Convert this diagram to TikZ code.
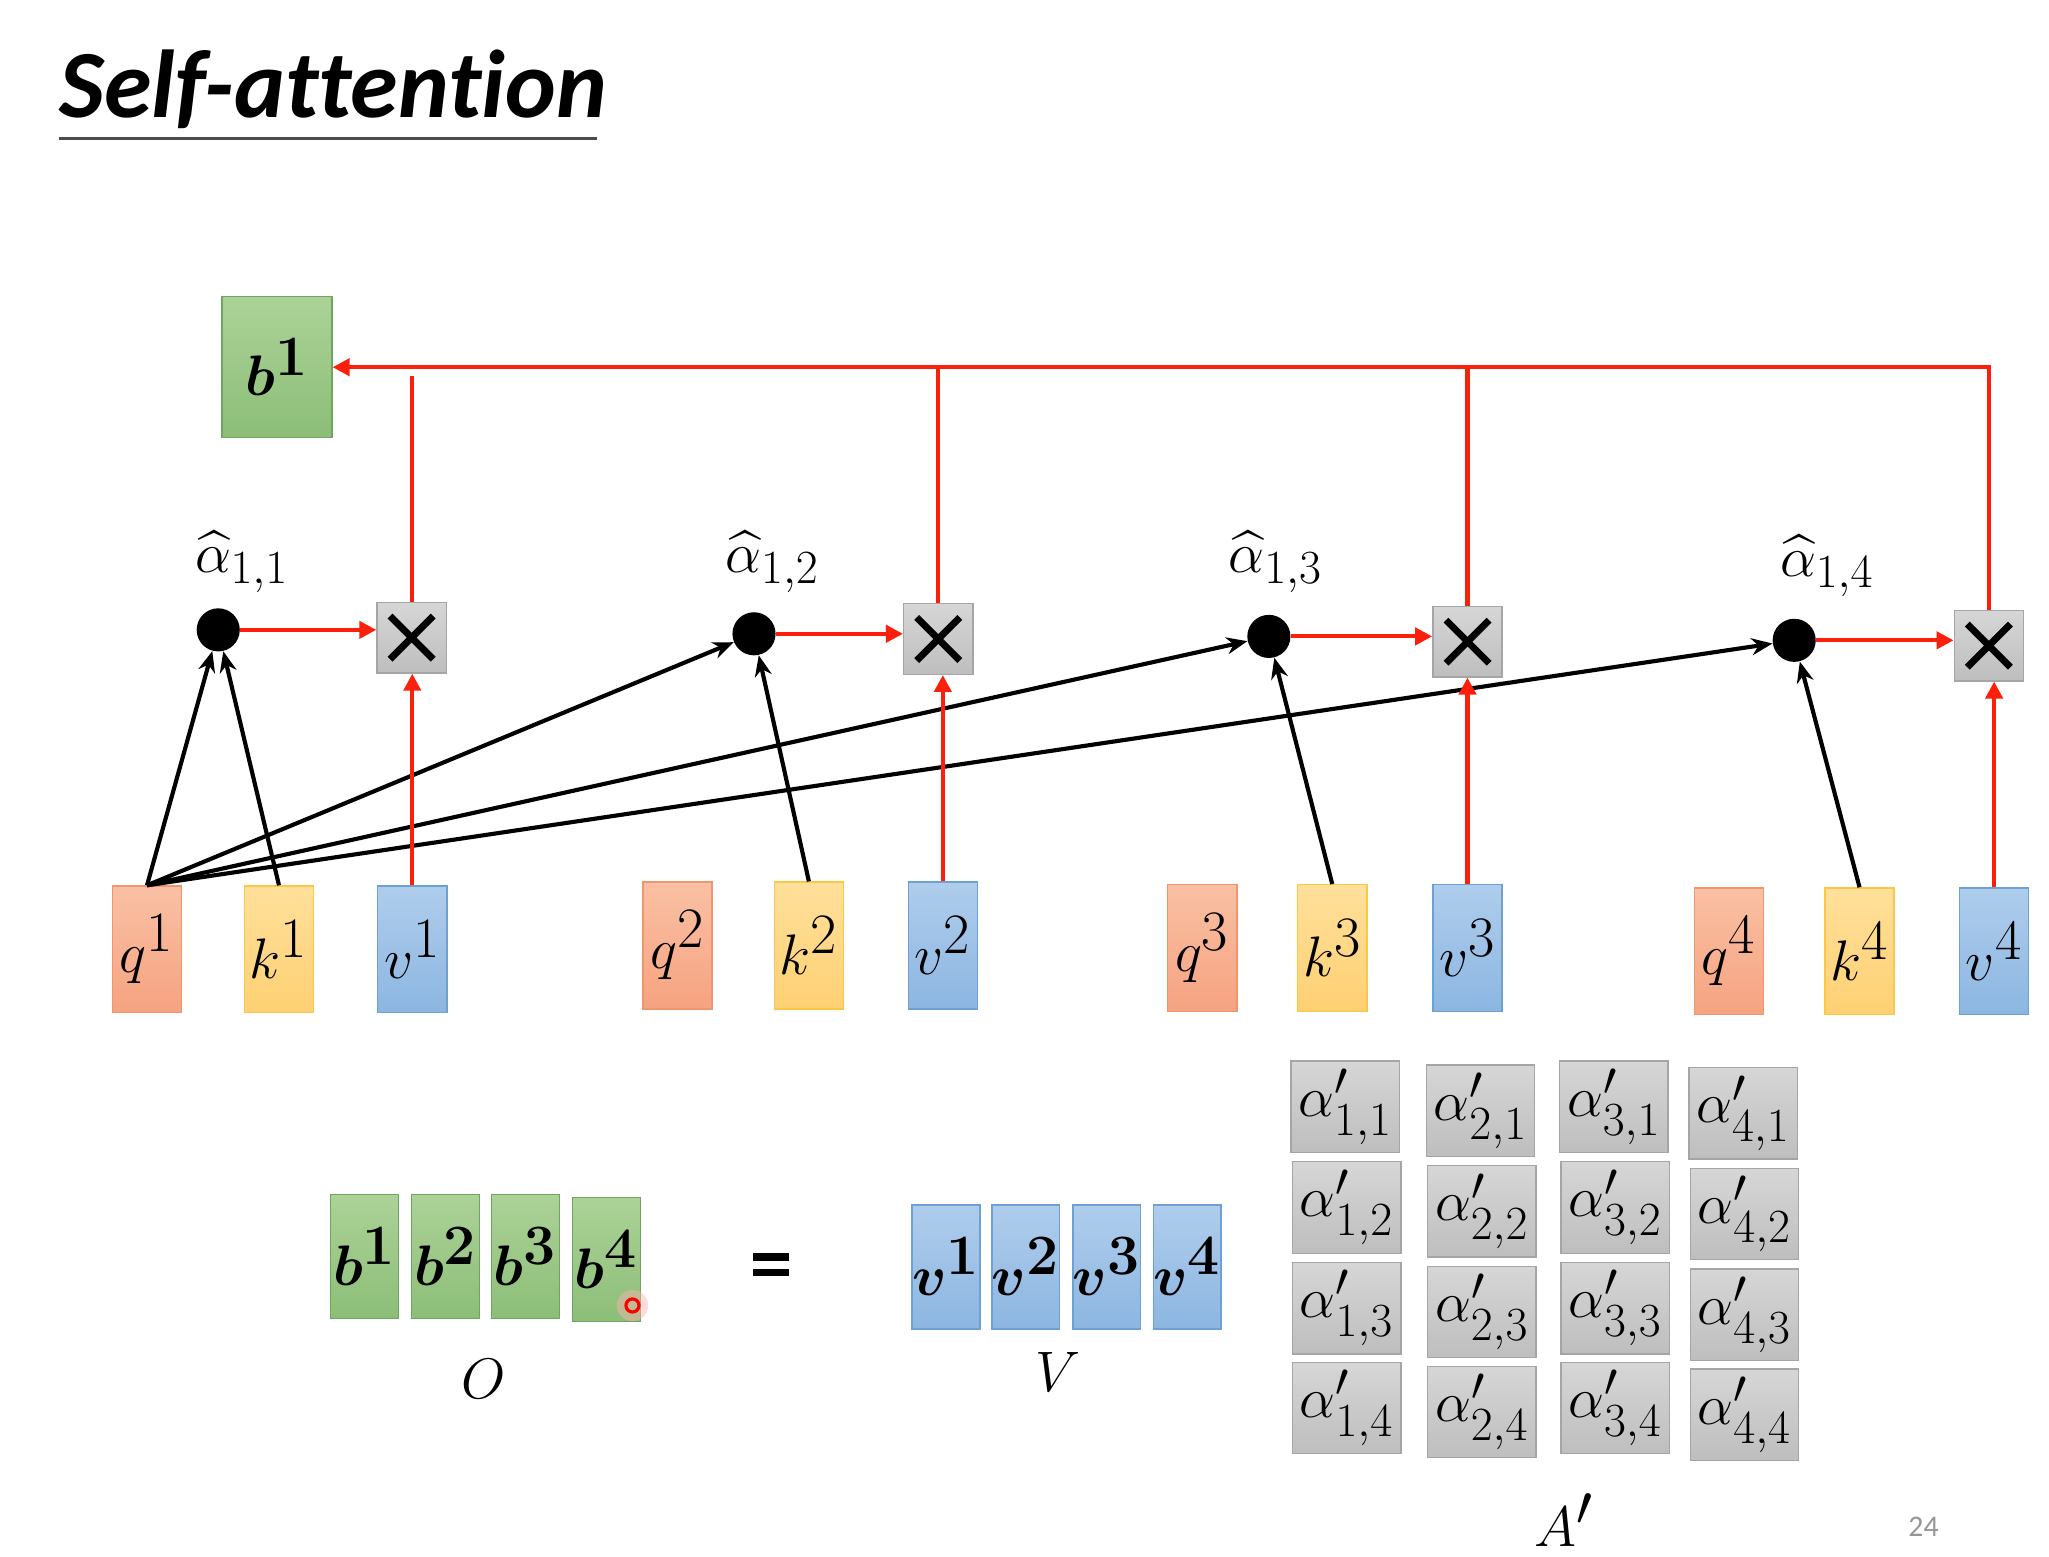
\documentclass[tikz,border=0pt]{standalone}
\usepackage{amsmath}
\usepackage{bm}
\usepackage{fontspec}
\newfontfamily\titlefont{Carlito}[Ligatures=NoCommon]
\usetikzlibrary{arrows.meta}
\definecolor{qtop}{RGB}{250,192,164}
\definecolor{qbot}{RGB}{245,163,128}
\definecolor{qdr}{RGB}{240,150,110}
\definecolor{ktop}{RGB}{255,224,155}
\definecolor{kbot}{RGB}{254,208,115}
\definecolor{kdr}{RGB}{250,200,70}
\definecolor{vtop}{RGB}{175,205,236}
\definecolor{vbot}{RGB}{140,182,225}
\definecolor{vdr}{RGB}{110,160,210}
\definecolor{gtop}{RGB}{172,210,152}
\definecolor{gbot}{RGB}{140,190,120}
\definecolor{gdr}{RGB}{110,165,95}
\definecolor{xtop}{RGB}{214,214,214}
\definecolor{xbot}{RGB}{190,190,190}
\definecolor{xdr}{RGB}{165,165,165}
\definecolor{redline}{RGB}{250,32,12}
\definecolor{pagegray}{RGB}{150,150,150}
\begin{document}
\begin{tikzpicture}[x=0.02cm,y=-0.02cm,
  cell/.style={draw, line width=0.6pt, inner sep=0pt, minimum width=1.06cm, minimum height=1.94cm, font=\fontsize{38}{44}\selectfont},
  qcell/.style={cell, draw=qdr, top color=qtop, bottom color=qbot},
  kcell/.style={cell, draw=kdr, top color=ktop, bottom color=kbot},
  vcell/.style={cell, draw=vdr, top color=vtop, bottom color=vbot},
  gcell/.style={cell, draw=gdr, top color=gtop, bottom color=gbot},
  ocell/.style={minimum width=1.04cm, minimum height=1.9cm, font=\fontsize{36}{42}\selectfont},
  acell/.style={draw=xdr, line width=0.6pt, top color=xtop, bottom color=xbot, inner sep=0pt, minimum width=1.66cm, minimum height=1.40cm, font=\fontsize{31}{36}\selectfont},
  mulbox/.style={draw=xdr, line width=0.6pt, top color=xtop, bottom color=xbot, inner sep=0pt, minimum width=1.06cm, minimum height=1.08cm,
     path picture={
       \draw[black, line width=3pt] ([shift={(-0.33cm,-0.33cm)}]path picture bounding box.center) -- ([shift={(0.33cm,0.33cm)}]path picture bounding box.center);
       \draw[black, line width=3pt] ([shift={(-0.33cm,0.33cm)}]path picture bounding box.center) -- ([shift={(0.33cm,-0.33cm)}]path picture bounding box.center);}},
  adot/.style={circle, fill=black, inner sep=0pt, minimum size=0.66cm},
  lab/.style={inner sep=0pt, font=\fontsize{32}{38}\selectfont},
  bigl/.style={inner sep=0pt, font=\fontsize{36}{42}\selectfont},
  bk/.style={draw=black, line width=1.8pt, -{Stealth[length=0.32cm,width=0.26cm]}},
  rd/.style={draw=redline, line width=1.8pt, -{Triangle[length=0.26cm,width=0.26cm]}},
  rdl/.style={draw=redline, line width=1.8pt},
]
\useasboundingbox[fill=white] (0,0) rectangle (1568,1191);

% title
\node[anchor=base west, inner sep=0pt, font=\titlefont\bfseries\itshape\fontsize{42}{48}\selectfont] (title) at (45,90) {Self-attention};
\draw[line width=1.2pt, black!70] (45,106) -- (457,106);

% q k v row
\node[qcell] (q1) at (112.5,726.5) {$q^1$};
\node[kcell] (k1) at (213.5,726.5) {$k^1$};
\node[vcell] (v1) at (315.5,726.5) {$v^1$};
\node[qcell] (q2) at (518.5,723.5) {$q^2$};
\node[kcell] (k2) at (619,723.5) {$k^2$};
\node[vcell] (v2) at (721.5,723.5) {$v^2$};
\node[qcell] (q3) at (920,725.5) {$q^3$};
\node[kcell] (k3) at (1019.5,725.5) {$k^3$};
\node[vcell] (v3) at (1123,725.5) {$v^3$};
\node[qcell] (q4) at (1323,728) {$q^4$};
\node[kcell] (k4) at (1423,728) {$k^4$};
\node[vcell] (v4) at (1526,728) {$v^4$};

% multiply boxes
\node[mulbox] (X1) at (315,488) {};
\node[mulbox] (X2) at (718,489) {};
\node[mulbox] (X3) at (1123,491) {};
\node[mulbox] (X4) at (1522,494) {};

% dots and labels
\node[adot] (d1) at (167,482) {};
\node[adot] (d2) at (577,485) {};
\node[adot] (d3) at (971,487) {};
\node[adot] (d4) at (1373,490) {};
\node[lab] (l1) at (185,430) {$\widehat{\alpha}_{1,1}$};
\node[lab] (l2) at (591,430) {$\widehat{\alpha}_{1,2}$};
\node[lab] (l3) at (976,430) {$\widehat{\alpha}_{1,3}$};
\node[lab] (l4) at (1398,433) {$\widehat{\alpha}_{1,4}$};

% output b1
\node[gcell, minimum width=1.68cm, minimum height=2.16cm, font=\fontsize{38}{44}\selectfont] (bt) at (212,281) {$\bm{b^1}$};

% black arrows
\draw[bk] (q1.north) -- (d1);
\draw[bk] (q1.north) -- (d2);
\draw[bk] (q1.north) -- (d3);
\draw[bk] (q1.north) -- (d4);
\draw[bk] (k1.north) -- (d1);
\draw[bk] (k2.north) -- (d2);
\draw[bk] (k3.north) -- (d3);
\draw[bk] (k4.north) -- (d4);

% red arrows
\foreach \i in {1,2,3,4}{
  \draw[rd] (d\i.east) -- (d\i.east -| X\i.west);
  \draw[rd] (v\i.north) -- (v\i.north |- X\i.south);
}
\draw[rd] (X4.north) |- (bt.east);
\draw[rdl] (X3.north) -- (X3.north |- bt.east);
\draw[rdl] (X2.north) -- (X2.north |- bt.east);
\draw[rdl] (X1.north) -- ([yshift=-0.14cm]X1.north |- bt.east);

% O = V A'
\node[gcell, ocell] (o1) at (279,961.5) {$\bm{b^1}$};
\node[gcell, ocell] (o2) at (341,961.5) {$\bm{b^2}$};
\node[gcell, ocell] (o3) at (402,961.5) {$\bm{b^3}$};
\node[gcell, ocell] (o4) at (464,964) {$\bm{b^4}$};
\node[bigl] (Olab) at (370,1055) {$O$};
\node[inner sep=0pt] (eq) at (590,968) {\vbox{\hrule width 15.4pt height 3.4pt\vskip 3.2pt\hrule width 15.4pt height 3.4pt}};
\node[vcell, ocell] (w1) at (724,969.5) {$\bm{v^1}$};
\node[vcell, ocell] (w2) at (785,969.5) {$\bm{v^2}$};
\node[vcell, ocell] (w3) at (847,969.5) {$\bm{v^3}$};
\node[vcell, ocell] (w4) at (908.5,969.5) {$\bm{v^4}$};
\node[bigl] (Vlab) at (810,1050) {$V$};

\node[acell] (a11) at (1029.5,847) {$\alpha'_{1,1}$};
\node[acell] (a21) at (1133,850) {$\alpha'_{2,1}$};
\node[acell] (a31) at (1235,847) {$\alpha'_{3,1}$};
\node[acell] (a41) at (1334,852) {$\alpha'_{4,1}$};
\node[acell] (a12) at (1030.5,924) {$\alpha'_{1,2}$};
\node[acell] (a22) at (1134,927) {$\alpha'_{2,2}$};
\node[acell] (a32) at (1236,924) {$\alpha'_{3,2}$};
\node[acell] (a42) at (1335,929) {$\alpha'_{4,2}$};
\node[acell] (a13) at (1030.5,1001) {$\alpha'_{1,3}$};
\node[acell] (a23) at (1134,1004) {$\alpha'_{2,3}$};
\node[acell] (a33) at (1236,1001) {$\alpha'_{3,3}$};
\node[acell] (a43) at (1335,1006) {$\alpha'_{4,3}$};
\node[acell] (a14) at (1030.5,1077.5) {$\alpha'_{1,4}$};
\node[acell] (a24) at (1134,1080.5) {$\alpha'_{2,4}$};
\node[acell] (a34) at (1236,1077.5) {$\alpha'_{3,4}$};
\node[acell] (a44) at (1335,1082.5) {$\alpha'_{4,4}$};
\node[bigl] (Alab) at (1197,1163) {$A'$};

% page number
\node[inner sep=0pt, font=\titlefont\fontsize{13}{15}\selectfont, text=pagegray] (pg) at (1472,1168) {24};

% laser pointer mark
\fill[red!30, opacity=0.45] (484,999) circle (0.24cm);
\draw[red, line width=1.4pt] (484,999) circle (0.1cm);
\end{tikzpicture}
\end{document}
